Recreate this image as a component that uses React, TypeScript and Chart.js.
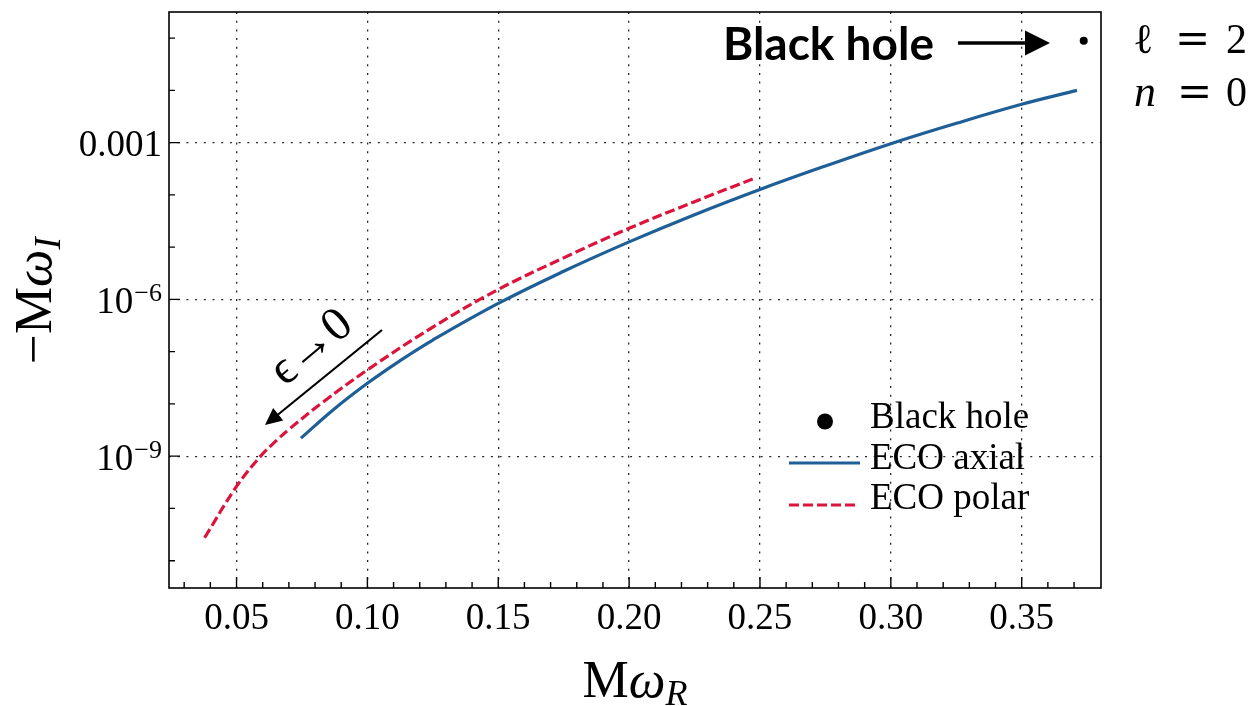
import React, { useEffect, useRef } from 'react';
import { Chart, registerables } from 'chart.js';
Chart.register(...registerables);

// ECO axial branch (x = M omega_R, y = -M omega_I)
const axialX = [0.0746, 0.087, 0.1, 0.1124, 0.125, 0.15, 0.175, 0.2, 0.225, 0.25, 0.275, 0.3, 0.325, 0.35, 0.3711];
const axialY = [2.21e-9, 7.76e-9, 2.48e-8, 6.68e-8, 1.67e-7, 8.39e-7, 3.45e-6, 1.26e-5, 4.18e-5, 1.27e-4, 3.57e-4, 9.55e-4, 2.34e-3, 5.42e-3, 1.0e-2];
// ECO polar branch
const polarX = [0.0378, 0.05, 0.0592, 0.0653, 0.0702, 0.0829, 0.1, 0.125, 0.15, 0.175, 0.2, 0.225, 0.2486];
const polarY = [2.75e-11, 2.63e-10, 1.0e-9, 2.0e-9, 3.31e-9, 1.07e-8, 4.47e-8, 2.95e-7, 1.55e-6, 6.24e-6, 2.29e-5, 7.41e-5, 2.14e-4];
// Black hole (Schwarzschild l=2, n=0)
const bhX = [0.3737];
const bhY = [0.089];

// Axes
const xMin = 0.0242;
const xMax = 0.3803;
const yMin = 3.0e-12;
const yMax = 0.316;
const xMajorTicks = [0.05, 0.1, 0.15, 0.2, 0.25, 0.3, 0.35];
const xTickLabels = ['0.05', '0.10', '0.15', '0.20', '0.25', '0.30', '0.35'];
const xMinorTicks = [0.03, 0.04, 0.06, 0.07, 0.08, 0.09, 0.11, 0.12, 0.13, 0.14, 0.16, 0.17, 0.18, 0.19, 0.21, 0.22, 0.23, 0.24, 0.26, 0.27, 0.28, 0.29, 0.31, 0.32, 0.33, 0.34, 0.36, 0.37];
const yMajorTicks = [1e-3, 1e-6, 1e-9];
const yTickBase = ['0.001', '10', '10'];
const yTickExp = ['', '\u22126', '\u22129'];
const yMinorTicks = [1e-1, 1e-2, 1e-4, 1e-5, 1e-7, 1e-8, 1e-10, 1e-11];

const BLUE = '#1f5f98';
const RED = '#dc143c';
const SERIF = '"Liberation Serif", "Times New Roman", serif';

function arrowHead(ctx: CanvasRenderingContext2D, tx: number, ty: number, ang: number, len: number, half: number) {
  ctx.save();
  ctx.translate(tx, ty);
  ctx.rotate(ang);
  ctx.beginPath();
  ctx.moveTo(0, 0);
  ctx.lineTo(-len, -half);
  ctx.lineTo(-len, half);
  ctx.closePath();
  ctx.fill();
  ctx.restore();
}

const overlay = {
  id: 'overlay',
  afterDraw(chart: any) {
    const { ctx, chartArea: a } = chart;
    const xs = chart.scales.x;
    const ys = chart.scales.y;
    ctx.save();
    ctx.fillStyle = '#000';
    ctx.strokeStyle = '#000';

    // frame
    ctx.lineWidth = 1.6;
    ctx.strokeRect(a.left, a.top, a.right - a.left, a.bottom - a.top);

    // ticks (inward)
    ctx.lineWidth = 1.4;
    ctx.beginPath();
    for (const v of xMinorTicks) {
      const p = xs.getPixelForValue(v);
      ctx.moveTo(p, a.bottom);
      ctx.lineTo(p, a.bottom - 6);
    }
    for (const v of xMajorTicks) {
      const p = xs.getPixelForValue(v);
      ctx.moveTo(p, a.bottom);
      ctx.lineTo(p, a.bottom - 11);
    }
    for (const v of yMinorTicks) {
      const p = ys.getPixelForValue(v);
      ctx.moveTo(a.left, p);
      ctx.lineTo(a.left + 6, p);
    }
    for (const v of yMajorTicks) {
      const p = ys.getPixelForValue(v);
      ctx.moveTo(a.left, p);
      ctx.lineTo(a.left + 11, p);
    }
    ctx.stroke();

    // x tick labels
    ctx.font = '37px ' + SERIF;
    ctx.textAlign = 'center';
    ctx.textBaseline = 'alphabetic';
    xMajorTicks.forEach((v, i) => {
      ctx.fillText(xTickLabels[i], xs.getPixelForValue(v), a.bottom + 41);
    });

    // y tick labels
    ctx.textAlign = 'left';
    const rightX = a.left - 7;
    yMajorTicks.forEach((v, i) => {
      const py = ys.getPixelForValue(v);
      ctx.font = '37px ' + SERIF;
      const wb = ctx.measureText(yTickBase[i]).width;
      let we = 0;
      if (yTickExp[i]) {
        ctx.font = '26px ' + SERIF;
        we = ctx.measureText(yTickExp[i]).width + 1;
      }
      const sx = rightX - wb - we;
      ctx.font = '37px ' + SERIF;
      ctx.fillText(yTickBase[i], sx, py + 13.5);
      if (yTickExp[i]) {
        ctx.font = '26px ' + SERIF;
        ctx.fillText(yTickExp[i], sx + wb + 1, py + 1.5);
      }
    });

    // x axis title: M omega_R
    {
      ctx.font = '52px ' + SERIF;
      const wM = ctx.measureText('M').width;
      ctx.font = 'italic 52px ' + SERIF;
      const wW = ctx.measureText('\u03c9').width;
      ctx.font = 'italic 36px ' + SERIF;
      const wR = ctx.measureText('R').width;
      const total = wM + wW + wR;
      let sx = (a.left + a.right) / 2 - total / 2;
      const base = 697;
      ctx.font = '52px ' + SERIF;
      ctx.fillText('M', sx, base);
      sx += wM;
      ctx.font = 'italic 52px ' + SERIF;
      ctx.fillText('\u03c9', sx, base);
      sx += wW;
      ctx.font = 'italic 36px ' + SERIF;
      ctx.fillText('R', sx, base + 8);
    }

    // y axis title: -M omega_I (rotated)
    {
      ctx.save();
      ctx.translate(51, 364);
      ctx.rotate(-Math.PI / 2);
      let sx = 0;
      ctx.font = '53px ' + SERIF;
      ctx.fillText('\u2212', sx, 0);
      sx += ctx.measureText('\u2212').width;
      ctx.fillText('M', sx, 0);
      sx += ctx.measureText('M').width;
      ctx.font = 'italic 53px ' + SERIF;
      ctx.fillText('\u03c9', sx, 0);
      sx += ctx.measureText('\u03c9').width;
      ctx.font = 'italic 37px ' + SERIF;
      ctx.fillText('I', sx, 9);
      ctx.restore();
    }

    // "Black hole" annotation with arrow
    ctx.font = 'bold 46px Lato, "Open Sans", sans-serif';
    ctx.fillText('Black hole', 723, 60);
    ctx.lineWidth = 3.5;
    ctx.beginPath();
    ctx.moveTo(958, 43);
    ctx.lineTo(1030, 43);
    ctx.stroke();
    arrowHead(ctx, 1050, 43, 0, 25, 12.5);

    // l = 2, n = 0
    ctx.font = '42px "DejaVu Serif", serif';
    ctx.fillText('\u2113', 1133, 53);
    ctx.fillText('=', 1175, 53);
    ctx.font = '42px ' + SERIF;
    ctx.fillText('2', 1226, 53);
    ctx.font = 'italic 44px ' + SERIF;
    ctx.fillText('n', 1134, 106);
    ctx.font = '42px "DejaVu Serif", serif';
    ctx.fillText('=', 1177, 106);
    ctx.font = '42px ' + SERIF;
    ctx.fillText('0', 1226, 106);

    // epsilon -> 0 annotation
    ctx.lineWidth = 2.2;
    ctx.beginPath();
    ctx.moveTo(382, 330);
    ctx.lineTo(275, 417);
    ctx.stroke();
    arrowHead(ctx, 265, 425, Math.atan2(95, -117), 17, 8);
    ctx.save();
    ctx.translate(312, 348);
    ctx.rotate(-40 * Math.PI / 180);
    ctx.textAlign = 'center';
    ctx.textBaseline = 'middle';
    ctx.font = '48px ' + SERIF;
    ctx.fillText('\u03f5\u21920', 0, 0);
    ctx.restore();

    // legend
    ctx.textAlign = 'left';
    ctx.textBaseline = 'alphabetic';
    ctx.font = '37px ' + SERIF;
    ctx.beginPath();
    ctx.arc(825, 421.5, 8, 0, Math.PI * 2);
    ctx.fill();
    ctx.fillText('Black hole', 870, 428);
    ctx.strokeStyle = BLUE;
    ctx.lineWidth = 3.2;
    ctx.beginPath();
    ctx.moveTo(789, 463);
    ctx.lineTo(860, 463);
    ctx.stroke();
    ctx.fillText('ECO axial', 870, 469);
    ctx.strokeStyle = RED;
    ctx.setLineDash([10, 4]);
    ctx.beginPath();
    ctx.moveTo(789, 505);
    ctx.lineTo(858, 505);
    ctx.stroke();
    ctx.setLineDash([]);
    ctx.fillText('ECO polar', 870, 509);

    ctx.restore();
  },
};

export default function App() {
  const ref = useRef<HTMLCanvasElement | null>(null);
  useEffect(() => {
    if (!ref.current) return;
    const chart = new Chart(ref.current, {
      type: 'line',
      data: {
        datasets: [
          {
            label: 'ECO axial',
            data: axialX.map((x, i) => ({ x, y: axialY[i] })),
            borderColor: BLUE,
            borderWidth: 3.2,
            pointRadius: 0,
            tension: 0.4,
            fill: false,
          },
          {
            label: 'ECO polar',
            data: polarX.map((x, i) => ({ x, y: polarY[i] })),
            borderColor: RED,
            borderWidth: 3.2,
            borderDash: [10, 4],
            pointRadius: 0,
            tension: 0.4,
            fill: false,
          },
          {
            label: 'Black hole',
            data: bhX.map((x, i) => ({ x, y: bhY[i] })),
            showLine: false,
            pointRadius: 4,
            pointBackgroundColor: '#000',
            pointBorderWidth: 0,
            borderColor: '#000',
          },
        ],
      } as any,
      options: {
        animation: false,
        responsive: false,
        maintainAspectRatio: false,
        layout: { padding: { top: 12, right: 152, left: 0, bottom: 0 } },
        plugins: { legend: { display: false }, tooltip: { enabled: false } },
        scales: {
          x: {
            type: 'linear',
            min: xMin,
            max: xMax,
            ticks: { display: false },
            grid: { color: 'rgba(0,0,0,0.85)', lineWidth: 1.3, drawTicks: false },
            border: { display: false, dash: [2, 6.7] },
            afterBuildTicks: (s: any) => {
              s.ticks = xMajorTicks.map((v) => ({ value: v }));
            },
            afterFit: (s: any) => {
              s.height = 118;
              s.paddingLeft = 0;
              s.paddingRight = 0;
            },
          },
          y: {
            type: 'logarithmic',
            min: yMin,
            max: yMax,
            ticks: { display: false },
            grid: { color: 'rgba(0,0,0,0.85)', lineWidth: 1.3, drawTicks: false },
            border: { display: false, dash: [2, 6.7] },
            afterBuildTicks: (s: any) => {
              s.ticks = yMajorTicks.map((v) => ({ value: v }));
            },
            afterFit: (s: any) => {
              s.width = 169;
              s.paddingTop = 0;
              s.paddingBottom = 0;
            },
          },
        },
      } as any,
      plugins: [overlay],
    });
    return () => chart.destroy();
  }, []);
  return (
    <div style={{ position: 'absolute', left: 0, top: 0, width: 1253, height: 706, background: '#fff' }}>
      <canvas ref={ref} width={1253} height={706} style={{ display: 'block' }} />
    </div>
  );
}
